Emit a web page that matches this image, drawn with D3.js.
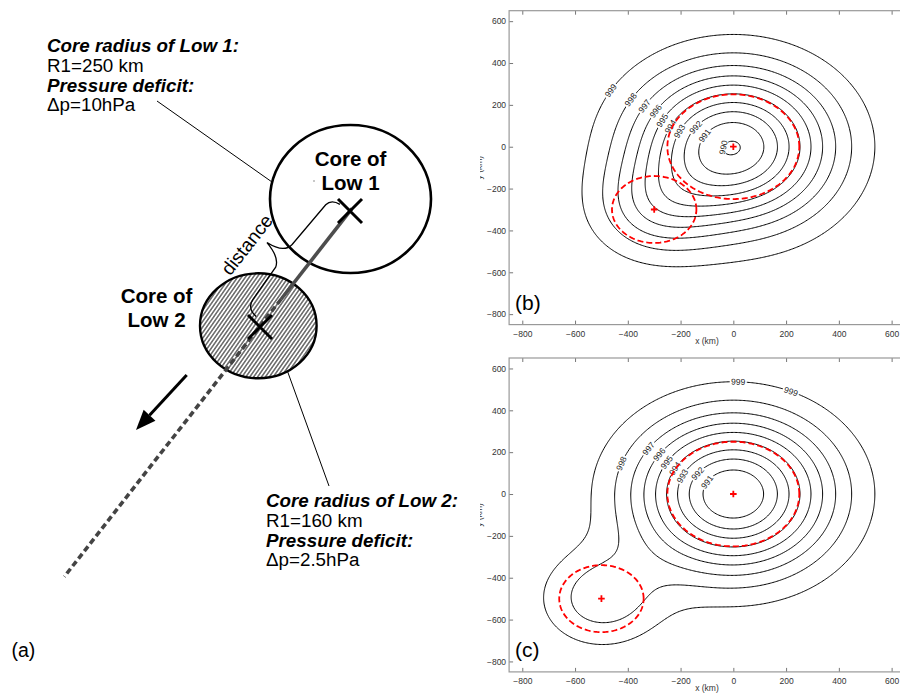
<!DOCTYPE html>
<html>
<head>
<meta charset="utf-8">
<script src="https://cdn.jsdelivr.net/npm/d3@7"></script>
<style>
  body { margin: 0; background: #fff; }
  svg { display: block; }
  text { font-family: "Liberation Sans", Arial, Helvetica, sans-serif; }
</style>
</head>
<body>
<svg id="fig" width="900" height="695"></svg>
<script>
// ---------------- data ----------------
const ambientPressure = 1000;                       // hPa, far-field pressure
const low1 = { name: "Low 1", x: 0, y: 0, R: 250, dp: 10 };   // primary low (km, hPa)
const low2 = { name: "Low 2", R: 160, dp: 2.5 };               // secondary low
const low2PosB = [-300, -300];                       // Low 2 centre, panel (b)
const low2PosC = [-500, -500];                       // Low 2 centre, panel (c)
const contourLevels = [990, 991, 992, 993, 994, 995, 996, 997, 998, 999];
const xTicks = [-800, -600, -400, -200, 0, 200, 400, 600];
const yTicks = [-800, -600, -400, -200, 0, 200, 400, 600];
const axisDomain = [-850, 650];
// contour labels: [level, bearing in degrees from the Low 1 centre]
const labelsB = [[999,150],[998,150],[997,150],[996,150],[995,155],[994,158],[993,160],[992,147],[991,154],[990,185]];
const labelsC = [[999,88],[999,66],[998,161],[997,146],[996,146],[995,149],[994,151],[993,156],[992,144],[991,150]];

// ---------------- pressure model ----------------
// Gaussian pressure deficit of each low: dp * exp(-r^2 / (2 R^2))
function pressure(x, y, l2) {
  const r1 = (x - low1.x) ** 2 + (y - low1.y) ** 2;
  const r2 = (x - l2[0]) ** 2 + (y - l2[1]) ** 2;
  return ambientPressure
    - low1.dp * Math.exp(-r1 / (2 * low1.R * low1.R))
    - low2.dp * Math.exp(-r2 / (2 * low2.R * low2.R));
}

const svg = d3.select("#fig");
const defs = svg.append("defs");
svg.append("rect").attr("width", 900).attr("height", 695).attr("fill", "#fff");

// ---------------- right-hand panels (b), (c) ----------------
defs.append("clipPath").attr("id", "rightClip")
  .append("rect").attr("x", 480).attr("y", 0).attr("width", 420).attr("height", 695);

const xScale = d3.scaleLinear().domain(axisDomain).range([509.1, 904.8]);
const kx = (xScale.range()[1] - xScale.range()[0]) / (axisDomain[1] - axisDomain[0]);

const panels = [
  { tag: "(b)", l2: low2PosB, labels: labelsB, top: 10.7, bottom: 324.6, xlab: 343.5 },
  { tag: "(c)", l2: low2PosC, labels: labelsC, top: 358.0, bottom: 671.9, xlab: 691 }
];

const step = 5;
const nGrid = Math.round((axisDomain[1] - axisDomain[0]) / step) + 1;
const tickFmt = d => d < 0 ? "\u2212" + (-d) : String(d);
const font = "\"Liberation Sans\", Arial, sans-serif";

panels.forEach((P, pi) => {
  const yScale = d3.scaleLinear().domain(axisDomain).range([P.bottom, P.top]);
  const ky = (P.bottom - P.top) / (axisDomain[1] - axisDomain[0]);
  const g = svg.append("g").attr("clip-path", "url(#rightClip)");

  // deficit grid (positive inside the lows so the rings close)
  const vals = new Float64Array(nGrid * nGrid);
  for (let j = 0; j < nGrid; j++) {
    const y = axisDomain[0] + j * step;
    for (let i = 0; i < nGrid; i++) {
      const x = axisDomain[0] + i * step;
      vals[j * nGrid + i] = ambientPressure - pressure(x, y, P.l2);
    }
  }
  const rings = d3.contours().size([nGrid, nGrid])
    .thresholds(contourLevels.map(l => ambientPressure - l))(vals);
  const proj = d3.geoTransform({
    point(gx, gy) {
      this.stream.point(xScale(axisDomain[0] + (gx - 0.5) * step),
                        yScale(axisDomain[0] + (gy - 0.5) * step));
    }
  });
  const path = d3.geoPath(proj);

  g.append("g").selectAll("path").data(rings).join("path")
    .attr("d", path).attr("fill", "none").attr("stroke", "#000")
    .attr("stroke-width", 1);

  // contour labels, sitting on the isobar and following its direction
  function onRay(level, deg) {
    const a = deg * Math.PI / 180, cx = Math.cos(a), cy = Math.sin(a);
    let prev = pressure(low1.x, low1.y, P.l2), prevR = 0;
    for (let r = 0.5; r < 1500; r += 0.5) {
      const p = pressure(low1.x + r * cx, low1.y + r * cy, P.l2);
      if ((prev - level) * (p - level) <= 0 && p !== prev) {
        const rr = prevR + (level - prev) / (p - prev) * 0.5;
        return [low1.x + rr * cx, low1.y + rr * cy];
      }
      prev = p; prevR = r;
    }
    return null;
  }
  const lab = g.append("g");
  P.labels.forEach(([level, deg]) => {
    const pt = onRay(level, deg);
    if (!pt) return;
    const h = 1;
    const gxv = (pressure(pt[0] + h, pt[1], P.l2) - pressure(pt[0] - h, pt[1], P.l2)) / (2 * h);
    const gyv = (pressure(pt[0], pt[1] + h, P.l2) - pressure(pt[0], pt[1] - h, P.l2)) / (2 * h);
    const tx = -gyv * kx, ty = -gxv * ky;   // tangent in screen space
    let ang = Math.atan2(ty, tx) * 180 / Math.PI;
    while (ang >= 90) ang -= 180;
    while (ang < -90) ang += 180;
    const lg = lab.append("g")
      .attr("transform", `translate(${xScale(pt[0])},${yScale(pt[1])}) rotate(${ang})`);
    lg.append("rect").attr("x", -8.5).attr("y", -3.8).attr("width", 17).attr("height", 7.6)
      .attr("fill", "#fff");
    lg.append("text").attr("text-anchor", "middle").attr("dy", "0.35em")
      .attr("font-size", 8.5).attr("fill", "#222").text(level);
  });

  // core radii (red dashed) and centres (red +)
  const cores = [
    { x: low1.x, y: low1.y, R: low1.R },
    { x: P.l2[0], y: P.l2[1], R: low2.R }
  ];
  const circ = d3.line().x(d => xScale(d[0])).y(d => yScale(d[1]));
  cores.forEach(c => {
    const pts = d3.range(0, 361, 2).map(a => [c.x + c.R * Math.cos(a * Math.PI / 180),
                                              c.y + c.R * Math.sin(a * Math.PI / 180)]);
    g.append("path").attr("d", circ(pts)).attr("fill", "none")
      .attr("stroke", "#f00").attr("stroke-width", 1.8).attr("stroke-dasharray", "6,3");
    const cx = xScale(c.x), cy = yScale(c.y);
    g.append("path").attr("d", `M${cx - 3.3},${cy}H${cx + 3.3}M${cx},${cy - 3.3}V${cy + 3.3}`)
      .attr("stroke", "#f00").attr("stroke-width", 1.8);
  });

  // axes: ticks inside on all sides, light box
  const styleAxis = sel => {
    sel.select(".domain").remove();
    sel.selectAll(".tick line").attr("stroke", "#777").attr("stroke-width", 1);
    sel.selectAll(".tick text").attr("fill", "#333").attr("font-size", 8.5).attr("font-family", font);
  };
  g.append("g").attr("transform", `translate(0,${P.bottom})`)
    .call(d3.axisBottom(xScale).tickValues(xTicks).tickSize(-4).tickPadding(6.5).tickFormat(tickFmt))
    .call(styleAxis);
  g.append("g").attr("transform", `translate(0,${P.top})`)
    .call(d3.axisTop(xScale).tickValues(xTicks).tickSize(-4).tickFormat(""))
    .call(styleAxis);
  g.append("g").attr("transform", `translate(${xScale.range()[0]},0)`)
    .call(d3.axisLeft(yScale).tickValues(yTicks).tickSize(-4).tickPadding(3).tickFormat(tickFmt))
    .call(styleAxis);
  g.append("g").attr("transform", `translate(${xScale.range()[1]},0)`)
    .call(d3.axisRight(yScale).tickValues(yTicks).tickSize(-4).tickFormat(""))
    .call(styleAxis);
  g.append("rect").attr("x", xScale.range()[0]).attr("y", P.top)
    .attr("width", xScale.range()[1] - xScale.range()[0]).attr("height", P.bottom - P.top)
    .attr("fill", "none").attr("stroke", "#999").attr("stroke-width", 1.2);

  g.append("text").attr("x", (xScale.range()[0] + xScale.range()[1]) / 2).attr("y", P.xlab)
    .attr("text-anchor", "middle").attr("font-size", 8.5).attr("fill", "#333").text("x (km)");
  g.append("text").attr("transform", `translate(482,${(P.top + P.bottom) / 2}) rotate(-90)`)
    .attr("text-anchor", "middle").attr("font-size", 8.5).attr("fill", "#333").text("y (km)");
  g.append("text").attr("x", 515).attr("y", P.bottom - 14.5)
    .attr("font-size", 21).attr("fill", "#000").text(P.tag);
});

// ---------------- schematic (a) ----------------
const A = svg.append("g");
defs.append("pattern").attr("id", "hatch").attr("patternUnits", "userSpaceOnUse")
  .attr("width", 3.2).attr("height", 10).attr("patternTransform", "rotate(35)")
  .append("line").attr("x1", 1.6).attr("y1", 0).attr("x2", 1.6).attr("y2", 10)
  .attr("stroke", "#000").attr("stroke-width", 0.9);

const X1 = [350, 211], X2 = [260, 327], trackEnd = [64.3, 576.7];
const trackLen = Math.hypot(trackEnd[0] - X1[0], trackEnd[1] - X1[1]);
const u = [(trackEnd[0] - X1[0]) / trackLen, (trackEnd[1] - X1[1]) / trackLen];
const n = [-u[1], u[0]];                          // perpendicular
const nUL = (n[0] < 0) ? n : [-n[0], -n[1]];      // pointing up-left
const along = (t, s) => [X1[0] + t * u[0] + s * nUL[0], X1[1] + t * u[1] + s * nUL[1]];

// leader lines
A.append("line").attr("x1", 157).attr("y1", 101).attr("x2", 272).attr("y2", 182)
  .attr("stroke", "#000").attr("stroke-width", 1);
A.append("line").attr("x1", 287.5).attr("y1", 371.3).attr("x2", 329).attr("y2", 486)
  .attr("stroke", "#000").attr("stroke-width", 1);

// core circles
A.append("ellipse").attr("cx", 350.5).attr("cy", 199).attr("rx", 80.5).attr("ry", 74)
  .attr("fill", "none").attr("stroke", "#000").attr("stroke-width", 2.6);
A.append("ellipse").attr("cx", 258.3).attr("cy", 325.8).attr("rx", 58.3).attr("ry", 52.5)
  .attr("fill", "url(#hatch)").attr("stroke", "#000").attr("stroke-width", 2.4);

// storm track: solid between the cores, dashed beyond
const p0 = along(-3, 0), p1 = along(112, 0);
A.append("line").attr("x1", p0[0]).attr("y1", p0[1]).attr("x2", p1[0]).attr("y2", p1[1])
  .attr("stroke", "#4d4d4d").attr("stroke-width", 3.6);
A.append("line").attr("x1", p1[0]).attr("y1", p1[1]).attr("x2", trackEnd[0]).attr("y2", trackEnd[1])
  .attr("stroke", "#444").attr("stroke-width", 3.6).attr("stroke-dasharray", "6,3.5");

// centre crosses
[X1, X2].forEach(c => {
  A.append("path").attr("d", `M${c[0] - 12},${c[1] - 12}L${c[0] + 12},${c[1] + 12}M${c[0] + 12},${c[1] - 12}L${c[0] - 12},${c[1] + 12}`)
    .attr("stroke", "#000").attr("stroke-width", 3);
});

// brace marking the distance between the centres
const bp = [[1,12],[2,22],[10,23],[62,25],[74,26],[76,46],[80,27],[90,24],[130,22],[140,21],[141,9]]
  .map(([t, s]) => along(t, s));
A.append("path")
  .attr("d", `M${bp[0]}Q${bp[1]} ${bp[2]}L${bp[3]}Q${bp[4]} ${bp[5]}Q${bp[6]} ${bp[7]}L${bp[8]}Q${bp[9]} ${bp[10]}`)
  .attr("fill", "none").attr("stroke", "#000").attr("stroke-width", 1.3);
const dpos = along(90, 54);
const dAng = Math.atan2(-u[1], -u[0]) * 180 / Math.PI;
A.append("text").attr("transform", `translate(${dpos[0]},${dpos[1]}) rotate(${dAng})`)
  .attr("text-anchor", "middle").attr("font-size", 19).text("distance");

// motion arrow
const tail = [186.7, 375], tip = [136, 430];
const al = Math.hypot(tip[0] - tail[0], tip[1] - tail[1]);
const au = [(tip[0] - tail[0]) / al, (tip[1] - tail[1]) / al];
const hb = [tip[0] - 20 * au[0], tip[1] - 20 * au[1]];
A.append("line").attr("x1", tail[0]).attr("y1", tail[1]).attr("x2", hb[0]).attr("y2", hb[1])
  .attr("stroke", "#000").attr("stroke-width", 3);
A.append("path")
  .attr("d", `M${tip}L${hb[0] - 8 * au[1]},${hb[1] + 8 * au[0]}L${hb[0] + 8 * au[1]},${hb[1] - 8 * au[0]}Z`)
  .attr("fill", "#000");

// stray mark inside the Low 1 circle
A.append("circle").attr("cx", 314).attr("cy", 181).attr("r", 0.7).attr("fill", "#666");

// core names
const coreNames = [
  { lines: ["Core of", low1.name], x: 350.5, y: 166 },
  { lines: ["Core of", low2.name], x: 156.5, y: 303 }
];
coreNames.forEach(c => {
  c.lines.forEach((s, i) => A.append("text").attr("x", c.x).attr("y", c.y + i * 24)
    .attr("text-anchor", "middle").attr("font-size", 20.5).attr("font-weight", "bold").text(s));
});

// parameter notes
const notes = [
  { x: 47, y: 52, lines: [["Core radius of Low 1:", true], [`R1=${low1.R} km`, false],
                         ["Pressure deficit:", true], [`\u0394p=${low1.dp}hPa`, false]] },
  { x: 266, y: 507, lines: [["Core radius of Low 2:", true], [`R1=${low2.R} km`, false],
                           ["Pressure deficit:", true], [`\u0394p=${low2.dp}hPa`, false]] }
];
notes.forEach(nb => {
  nb.lines.forEach(([s, b], i) => A.append("text").attr("x", nb.x).attr("y", nb.y + i * 19.8)
    .attr("font-size", 18.8).attr("font-weight", b ? "bold" : "normal")
    .attr("font-style", b ? "italic" : "normal").text(s));
});

A.append("text").attr("x", 11.5).attr("y", 657).attr("font-size", 19.5).text("(a)");
</script>
</body>
</html>
